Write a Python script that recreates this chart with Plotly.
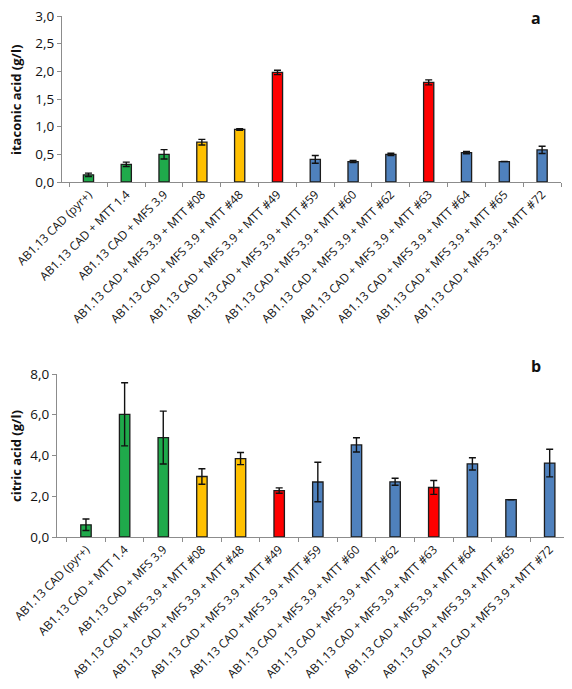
import plotly.graph_objects as go

categories = [
    "AB1.13 CAD (pyr+)",
    "AB1.13 CAD + MTT 1.4",
    "AB1.13 CAD + MFS 3.9",
    "AB1.13 CAD + MFS 3.9 + MTT #08",
    "AB1.13 CAD + MFS 3.9 + MTT #48",
    "AB1.13 CAD + MFS 3.9 + MTT #49",
    "AB1.13 CAD + MFS 3.9 + MTT #59",
    "AB1.13 CAD + MFS 3.9 + MTT #60",
    "AB1.13 CAD + MFS 3.9 + MTT #62",
    "AB1.13 CAD + MFS 3.9 + MTT #63",
    "AB1.13 CAD + MFS 3.9 + MTT #64",
    "AB1.13 CAD + MFS 3.9 + MTT #65",
    "AB1.13 CAD + MFS 3.9 + MTT #72",
]
itaconic = [0.13, 0.32, 0.50, 0.72, 0.95, 1.98, 0.41, 0.37, 0.50, 1.80, 0.53, 0.37, 0.58]
itaconic_err = [0.03, 0.04, 0.085, 0.05, 0.015, 0.04, 0.07, 0.02, 0.02, 0.045, 0.02, 0.0, 0.065]
citric = [0.60, 6.02, 4.88, 2.97, 3.85, 2.28, 2.70, 4.52, 2.71, 2.43, 3.59, 1.83, 3.63]
citric_err = [0.28, 1.55, 1.30, 0.38, 0.30, 0.13, 0.97, 0.35, 0.17, 0.34, 0.30, 0.0, 0.68]
groups = ["g", "g", "g", "y", "y", "r", "b", "b", "b", "r", "b", "b", "b"]
palette = {"g": "#1FAA4B", "y": "#FFC000", "r": "#FF0000", "b": "#4F81BD"}
colors = [palette[g] for g in groups]

# page body has an 8px default margin; work in screen pixels and convert
OFF = 8
W, H = 572 - OFF, 689 - OFF
ml, mr, mt, mb = 56 - OFF, 3, 0, 152
pw, ph = W - ml - mr, H - mt - mb

def px_x(p):
    return (p - OFF - ml) / pw

def px_y(p):
    return min(1.0, (H - mb - (p - OFF)) / ph)

fig = go.Figure()
for vals, errs, ax in [(itaconic, itaconic_err, ""), (citric, citric_err, "2")]:
    fig.add_trace(go.Bar(
        x=categories, y=vals,
        width=0.27,
        marker=dict(color=colors, line=dict(color="#1c1c1c", width=1.3)),
        error_y=dict(type="data", array=errs, visible=True, color="#111",
                     thickness=1.4, width=3.5),
        xaxis="x" + ax, yaxis="y" + ax,
        showlegend=False,
    ))

FAM = "Open Sans, Lato, sans-serif"
tickfont = dict(family=FAM, size=11.8, color="#111")
yfont = dict(family=FAM, size=13.5, color="#111")
common_x = dict(type="category", tickangle=-45, tickfont=tickfont,
                showline=True, linecolor="#8c8c8c", linewidth=1.2,
                ticks="outside", tickson="boundaries", ticklen=4,
                tickcolor="#8c8c8c", showgrid=False, automargin=False,
                ticklabeloverflow="allow")
common_y = dict(showline=True, linecolor="#8c8c8c", linewidth=1.2,
                ticks="outside", ticklen=4, tickcolor="#8c8c8c",
                showgrid=False, zeroline=False, tickformat=".1f",
                tickfont=yfont, automargin=False, ticklabeloverflow="allow")

def ann(text, x, y, size, angle=0):
    return dict(text=text, textangle=angle, xref="paper", yref="paper",
                x=px_x(x), y=px_y(y), xanchor="center", yanchor="middle",
                showarrow=False, font=dict(family=FAM, size=size, color="#111"))

fig.update_layout(
    width=W, height=H,
    margin=dict(l=ml, r=mr, t=mt, b=mb),
    plot_bgcolor="white", paper_bgcolor="white",
    separators=",.",
    xaxis=dict(common_x, domain=[px_x(62), px_x(561)], range=[-0.7, 12.5], anchor="y"),
    yaxis=dict(common_y, domain=[px_y(182), px_y(16)], range=[0, 3.0001],
               tickmode="array", tickvals=[0, 0.5, 1, 1.5, 2, 2.5, 3], anchor="x"),
    xaxis2=dict(common_x, domain=[px_x(57), px_x(569)], range=[-0.75, 12.5], anchor="y2"),
    yaxis2=dict(common_y, domain=[0, px_y(374)], range=[0, 8.0001],
                tickmode="array", tickvals=[0, 2, 4, 6, 8], anchor="x2"),
    annotations=[
        ann("<b>itaconic acid (g/l)</b>", 16, 100, 13, -90),
        ann("<b>citric acid (g/l)</b>", 16, 456, 13, -90),
        ann("<b>a</b>", 536, 18, 16),
        ann("<b>b</b>", 536, 366, 16),
    ],
)

fig.write_html("out.html")
